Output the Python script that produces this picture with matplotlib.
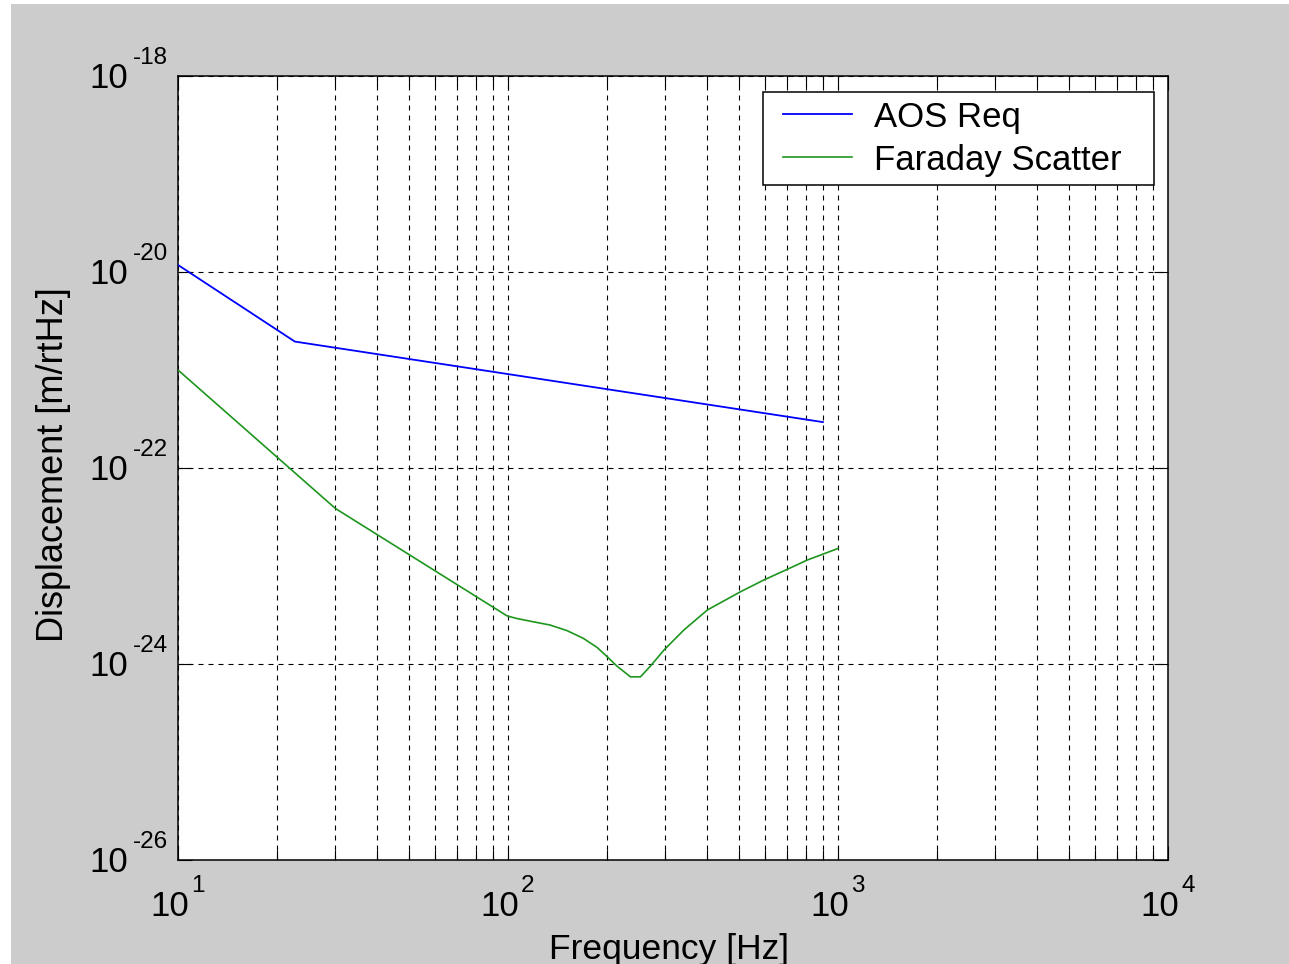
import matplotlib
matplotlib.use('Agg')
import matplotlib.pyplot as plt
from matplotlib.transforms import offset_copy
from matplotlib.patches import Rectangle
from matplotlib.lines import Line2D
from matplotlib.legend_handler import HandlerLine2D
from matplotlib.ticker import NullLocator, NullFormatter, FixedLocator, LogLocator

plt.rcParams['font.family'] = ['Liberation Sans', 'DejaVu Sans']
plt.rcParams['lines.scale_dashes'] = False

# ---- data ----
aos_freq = [10, 22.6, 900]
aos_disp = [1.18e-20, 1.95e-21, 2.94e-22]

far_freq = [10, 30, 99.3, 106, 119, 134, 151, 169, 186, 197, 214, 235, 252, 270,
            297, 341, 402, 507, 596, 702, 807, 1000]
far_disp = [1.0e-21, 3.86e-23, 3.1e-24, 2.92e-24, 2.70e-24, 2.50e-24, 2.19e-24,
            1.83e-24, 1.48e-24, 1.24e-24, 9.5e-25, 7.4e-25, 7.4e-25, 9.5e-25,
            1.39e-24, 2.22e-24, 3.56e-24, 5.47e-24, 7.2e-24, 9.25e-24, 1.15e-23, 1.51e-23]

series_labels = ['AOS Req', 'Faraday Scatter']
x_ticks = [1e1, 1e2, 1e3, 1e4]
x_tick_exps = ['1', '2', '3', '4']
y_ticks = [1e-26, 1e-24, 1e-22, 1e-20, 1e-18]
y_tick_exps = ['-26', '-24', '-22', '-20', '-18']
x_label = 'Frequency [Hz]'
y_label = 'Displacement [m/rtHz]'

W, H = 1289, 964
fig = plt.figure(figsize=(W / 100, H / 100), dpi=100, facecolor='white')
fig.patches.append(Rectangle((11 / W, 0), 1, 960 / H, transform=fig.transFigure,
                             facecolor='#cccccc', edgecolor='none', zorder=-10))
ax = fig.add_axes([178 / W, 104 / H, 990 / W, 784 / H])
ax.set_facecolor('white')

blue = '#0000ff'
green = '#1e961e'
l1, = ax.plot(aos_freq, aos_disp, color=blue, lw=1.3, label=series_labels[0], zorder=3)
l2, = ax.plot(far_freq, far_disp, color=green, lw=1.2, label=series_labels[1], zorder=3)

ax.set_xscale('log')
ax.set_yscale('log')
ax.set_xlim(1e1, 1e4)
ax.set_ylim(1e-26, 1e-18)
ax.xaxis.set_major_locator(FixedLocator(x_ticks))
ax.xaxis.set_minor_locator(LogLocator(base=10, subs=range(2, 10), numticks=50))
ax.yaxis.set_major_locator(FixedLocator(y_ticks))
ax.yaxis.set_minor_locator(NullLocator())
ax.xaxis.set_major_formatter(NullFormatter())
ax.xaxis.set_minor_formatter(NullFormatter())
ax.yaxis.set_major_formatter(NullFormatter())

ax.tick_params(which='both', direction='in', top=True, right=True, color='black', width=0.8)
ax.tick_params(which='major', length=10)
ax.tick_params(which='minor', length=7)
for s in ax.spines.values():
    s.set_linewidth(1.1)
    s.set_color('black')

grid_kw = dict(color='black', linewidth=0.8, linestyle=(0, (3.6, 3.6)))
ax.grid(True, which='major', axis='both', **grid_kw)
ax.grid(True, which='minor', axis='x', **grid_kw)
ax.set_axisbelow(True)

# tick labels (MATLAB-style 10 with raised exponent)
big = 25
small = 17.5
xt = ax.get_xaxis_transform()
for v, e in zip(x_ticks, x_tick_exps):
    ax.text(v, 0, '10', fontsize=big, ha='right', va='baseline',
            transform=offset_copy(xt, fig=fig, x=11, y=-56, units='dots'), clip_on=False)
    ax.text(v, 0, e, fontsize=small, ha='left', va='baseline',
            transform=offset_copy(xt, fig=fig, x=13, y=-32, units='dots'), clip_on=False)
yt = ax.get_yaxis_transform()
for v, e in zip(y_ticks, y_tick_exps):
    ax.text(0, v, '10', fontsize=big, ha='right', va='baseline',
            transform=offset_copy(yt, fig=fig, x=-50, y=-12.5, units='dots'), clip_on=False)
    ax.text(0, v, e, fontsize=small, ha='left', va='baseline',
            transform=offset_copy(yt, fig=fig, x=-45, y=12, units='dots'), clip_on=False)

ax.text(0.5, 0, x_label, fontsize=25.5, ha='center', va='baseline',
        transform=offset_copy(ax.transAxes, fig=fig, x=-4, y=-99, units='dots'), clip_on=False)
ax.text(0, 0.5, y_label, fontsize=26, ha='center', va='baseline', rotation=90,
        rotation_mode='anchor',
        transform=offset_copy(ax.transAxes, fig=fig, x=-115, y=3, units='dots'), clip_on=False)

fs = 25
em = fs * 100 / 72
bp = 8.5 / em
leg = ax.legend(handles=[l1, l2], loc='upper left',
                bbox_to_anchor=((763 - 178) / 990, 0.5, (1154 - 763) / 990, (860 - 92) / 784 - 0.5),
                mode='expand', borderaxespad=0, fancybox=False, framealpha=1,
                edgecolor='black', fontsize=fs, borderpad=bp,
                handlelength=(20 - 8.5 + 69) / em, handletextpad=22 / em, labelspacing=0.29,
                handler_map={Line2D: HandlerLine2D(xpad=(20 - 8.5) / em)})
leg.get_frame().set_linewidth(1.1)
leg.set_zorder(5)

fig.savefig('out.png', dpi=100, facecolor=fig.get_facecolor())
